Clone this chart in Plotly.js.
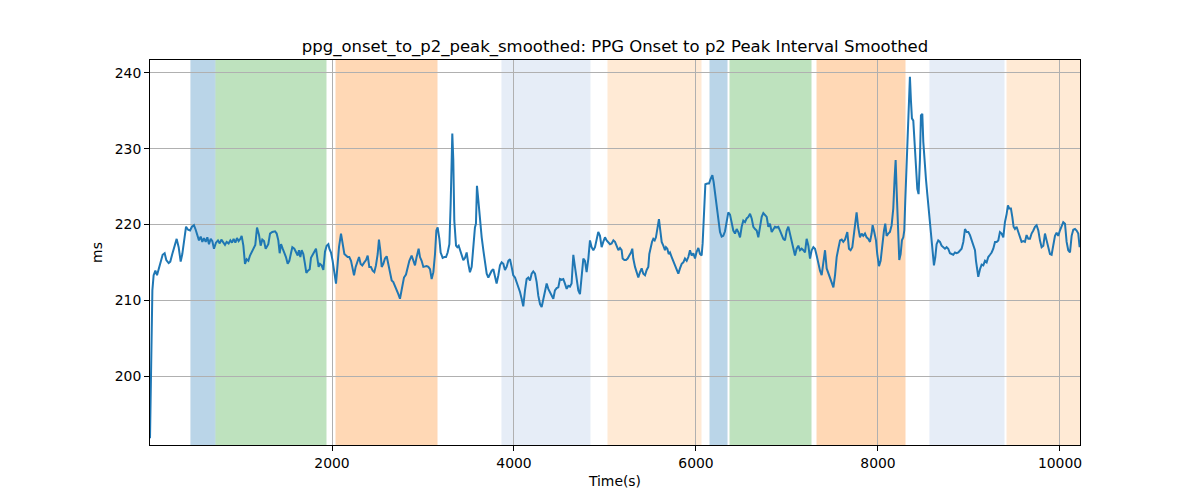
<!DOCTYPE html>
<html>
<head>
<meta charset="utf-8">
<script src="https://cdn.plot.ly/plotly-3.0.1.min.js"></script>
<style>html,body{margin:0;padding:0;background:#fff;}#chart{width:1200px;height:500px;}</style>
</head>
<body>
<div id="chart"></div>
<script>
// Time (s)
const time = [0,15,26,40,59,77,99,117,139,161,179,205,223,245,271,293,315,337,355,381,396,418,440,461,483,502,520,538,557,575,593,612,630,648,667,685,703,725,747,766,784,802,824,842,864,883,901,919,938,956,974,993,1007,1026,1044,1062,1081,1099,1121,1143,1157,1176,1198,1216,1234,1253,1271,
1300,1319,1344,1374,1392,1410,1425,1440,1458,1476,1494,1513,1531,1549,1564,1586,1604,1623,1637,1652,1667,1685,1703,1718,1736,1755,1769,1787,1806,1824,1839,1853,1868,1886,1905,1923,1941,1960,1971,1989,2007,2026,2044,2062,2077,2099,2117,2136,2154,2172,2190,2209,2223,2242,2260,2278,2297,2315,2333,2355,2374,2392,2410,2428,2447,2465,2483,2502,2516,2531,
2546,2564,2582,2601,2619,2637,2656,2674,2692,2711,2729,2747,2773,2791,2813,2832,2850,2875,2894,2912,2930,2952,2967,2985,3004,3022,3040,3059,3077,3095,3114,3132,3147,3161,3180,3194,3216,3235,3253,3271,3290,3304,3315,3322,3333,3344,3363,3377,3392,3407,3425,3443,3462,3480,3498,3516,3535,3553,3571,3582,3593,3608,3626,3645,3663,3681,3700,3718,3736,3755,3773,3791,
3809,3828,3846,3864,3883,3901,3919,3938,3956,3974,3992,4011,4029,4047,4066,4084,4102,4121,4139,4157,4176,4194,4212,4231,4249,4267,4286,4304,4322,4341,4359,4377,4396,4414,4432,4450,4469,4487,4505,4524,4542,4560,4579,4597,4615,4633,4652,4670,4688,4707,4725,4743,4762,4780,4798,4817,4835,4853,4872,4890,4908,4926,4945,4963,4981,5000,5018,5036,
5055,5073,5092,5110,5128,5147,5165,5183,5194,5213,5231,5249,5267,5286,5300,5311,5330,5348,5366,5385,5403,5421,5440,5458,5476,5487,5502,5517,5531,5546,5560,5575,5593,5608,5623,5641,5659,5670,5685,5700,5714,5733,5751,5769,5788,5806,5824,5843,5861,5879,5898,5916,5934,5952,5971,5989,6007,6026,6044,6062,6073,6088,6103,6125,6143,6161,6180,6194,6213,6227,6246,6264,6282,6300,
6319,6337,6355,6374,6392,6410,6429,6447,6465,6484,6502,6520,6539,6557,6575,6594,6612,6630,6649,6667,6685,6703,6722,6740,6758,6777,6795,6813,6832,6850,6868,6887,6905,6923,6942,6960,6978,6997,7015,7033,7051,7070,7088,7106,7125,7143,7161,7180,7198,7216,7235,7253,7271,7290,7308,7326,7345,7363,7381,7400,7418,7436,7455,7473,7491,7510,7528,7546,7564,7583,7601,7619,7638,
7663,7681,7699,7718,7736,7754,7765,7783,7802,7820,7838,7857,7875,7893,7912,7930,7941,7959,7978,7992,8011,8029,8047,8066,8080,8095,8113,8131,8150,8168,8183,8194,8205,8219,8234,8249,8263,8278,8289,8300,8315,8329,8340,8351,8362,8373,8388,8403,8417,8432,8446,8461,8472,8487,8498,8509,8527,8542,8556,8571,8586,8600,8615,8630,8644,8662,8681,8699,8717,8736,8754,8772,8791,8809,8827,8846,
8864,8883,8901,8919,8938,8956,8974,8993,9011,9029,9048,9066,9077,9091,9102,9121,9139,9157,9176,9194,9212,9231,9249,9267,9286,9304,9322,9340,9359,9377,9395,9414,9428,9443,9461,9476,9490,9505,9523,9542,9560,9578,9597,9615,9633,9652,9670,9688,9707,9725,9743,9762,9780,9798,9817,9835,9853,9872,9890,9908,9927,9945,9963,9981,9999,10018,10036,10055,10073,10091,10110,10128,10146,10165,10183,10201,10216];

// Interval (ms)
const interval = [191.8,203.8,211.3,213.3,213.9,213.3,214.3,214.8,216.0,216.2,215.3,214.9,215.1,216.1,217.2,218.1,217.0,215.1,216.1,218.8,219.7,219.3,219.2,219.7,219.9,219.3,218.4,217.9,218.4,217.7,218.2,217.7,218.3,217.4,218.1,217.8,216.8,217.6,217.9,217.5,218.0,217.6,217.3,217.7,217.5,217.9,217.6,218.1,217.6,218.2,217.8,218.1,218.5,217.2,214.8,215.4,215.2,215.9,216.5,217.1,217.3,219.6,218.6,217.2,218.0,217.8,216.8,
217.4,218.8,219.0,219.1,218.8,217.9,216.2,217.4,216.8,216.3,215.7,214.8,215.2,216.2,217.0,216.8,216.3,215.9,216.6,215.7,216.6,216.1,214.8,213.6,213.9,214.1,215.6,216.1,216.4,216.8,215.7,214.4,214.8,214.6,214.0,216.4,217.2,217.4,216.8,216.3,215.2,213.7,212.2,214.8,217.0,218.8,217.7,216.1,215.9,215.7,215.7,215.2,214.4,213.3,214.4,215.2,215.7,214.8,214.6,215.0,215.3,215.9,214.4,214.4,213.9,213.7,214.6,216.1,218.0,216.6,
214.4,214.8,215.5,215.8,214.8,213.7,212.6,212.4,211.9,211.5,210.8,210.2,212.0,213.0,213.4,214.4,215.2,215.9,215.2,214.6,215.7,216.8,215.7,215.2,214.4,214.5,214.5,214.4,214.1,212.8,213.7,216.1,219.2,219.6,218.1,216.3,215.6,215.7,215.7,216.3,217.4,222.7,228.9,232.0,228.5,220.5,217.2,217.0,217.2,216.6,215.7,215.3,215.6,216.3,214.8,213.7,214.4,217.4,219.6,220.1,225.1,223.2,220.5,218.3,216.6,214.8,213.5,213.0,213.5,213.9,214.1,213.0,
212.2,213.3,214.6,215.0,214.8,214.0,214.4,215.2,215.4,214.4,213.3,213.0,212.4,211.7,211.1,210.2,209.2,211.3,212.8,213.0,212.6,213.5,213.8,213.5,212.4,210.6,209.5,209.1,210.0,211.1,212.2,211.5,211.1,210.6,210.2,211.3,211.6,211.7,212.8,212.7,212.8,212.2,211.5,211.9,211.8,212.2,216.0,214.4,212.6,211.3,210.8,213.0,215.5,215.2,213.7,215.5,217.9,217.0,216.6,217.0,218.1,219.0,218.5,217.0,217.7,218.3,217.9,217.7,
217.4,217.5,217.9,217.7,217.2,216.6,216.9,216.6,215.5,215.3,215.3,215.5,215.9,216.3,216.8,215.5,214.4,213.5,213.0,213.7,214.2,213.5,213.3,214.0,214.4,216.1,217.0,217.7,218.1,217.9,218.3,219.4,220.7,219.2,217.7,217.2,216.6,217.0,216.8,216.1,216.3,215.7,215.2,214.7,214.2,213.5,214.2,214.8,215.0,215.5,215.2,215.7,216.6,215.9,216.2,215.5,216.4,216.9,216.1,215.9,217.5,222.7,225.3,225.4,225.4,226.0,226.5,225.6,223.6,222.3,220.5,219.0,218.4,218.5,
219.1,220.4,221.6,221.3,220.1,219.2,218.8,219.4,219.0,218.3,219.7,220.5,220.3,220.8,221.0,221.4,220.8,219.7,219.4,219.2,218.3,219.7,221.0,221.5,221.2,221.0,219.7,220.1,219.0,219.4,219.7,219.6,219.7,219.2,218.5,218.1,217.9,219.2,219.7,218.8,217.7,216.8,215.9,216.8,217.2,216.6,216.8,216.6,216.3,218.1,217.2,215.5,216.6,217.0,216.8,215.9,214.8,213.9,213.3,214.8,216.6,214.2,213.5,213.0,212.4,211.7,213.3,215.7,216.8,217.9,218.0,217.7,218.0,
219.0,216.8,216.6,217.0,218.7,220.5,221.6,219.6,218.3,218.8,218.5,218.8,218.3,218.1,217.7,218.8,219.9,219.0,217.9,216.1,214.5,215.2,217.7,219.2,220.1,218.5,218.8,219.0,219.9,222.1,226.2,228.5,224.5,218.8,215.3,216.1,217.9,218.3,219.2,223.2,228.4,233.7,237.3,239.5,236.4,234.0,233.7,230.7,227.6,224.7,224.0,228.5,234.4,234.6,230.9,228.5,226.0,224.0,222.1,220.1,217.9,216.1,214.6,215.7,217.4,217.9,217.7,217.2,217.0,216.8,217.0,216.8,216.2,216.1,216.0,216.3,
216.2,216.3,216.6,216.8,217.7,219.4,219.0,219.0,218.6,217.9,217.2,216.6,215.2,213.7,213.1,214.1,214.7,214.6,215.2,215.0,215.7,216.0,216.3,216.8,217.7,217.7,217.9,219.0,218.8,218.3,220.3,221.4,222.5,222.1,222.1,221.0,219.7,219.4,219.7,219.0,218.3,217.7,217.8,217.7,218.6,218.1,218.1,218.8,219.2,219.7,219.9,219.2,217.9,217.0,217.2,218.8,217.9,217.0,216.1,216.0,217.5,218.5,218.9,218.5,219.2,219.9,220.3,220.1,217.7,216.6,216.3,218.5,219.3,219.4,219.2,218.8,217.0];

// Shaded segments
const spanStart = [450, 725, 2044, 3868, 5033, 6154, 6374, 7330, 8571, 9418];
const spanEnd   = [714, 1934, 3154, 4835, 6055, 6341, 7264, 8297, 9385, 10220];
const spanKind  = ['blue', 'green', 'orange', 'lightblue', 'lightorange', 'blue', 'green', 'orange', 'lightblue', 'lightorange'];

const xTicks = [2000, 4000, 6000, 8000, 10000];
const yTicks = [200, 210, 220, 230, 240];

const kindColor = {blue: '#1f77b4', green: '#2ca02c', orange: '#ff7f0e', lightblue: '#aec7e8', lightorange: '#ffbb78'};

const shapes = spanStart.map((s, i) => ({
  type: 'rect', xref: 'x', yref: 'paper', x0: s, x1: spanEnd[i], y0: 0, y1: 1,
  fillcolor: kindColor[spanKind[i]], opacity: 0.3, layer: 'below',
  line: {width: 1, color: kindColor[spanKind[i]]}
}));

const trace = {
  x: time, y: interval, type: 'scatter', mode: 'lines',
  line: {color: '#1f77b4', width: 2}, hoverinfo: 'skip'
};

const font = "DejaVu Sans, sans-serif";
const layout = {
  width: 1200, height: 500,
  margin: {l: 150, r: 120, t: 60, b: 55, pad: 0},
  paper_bgcolor: '#ffffff', plot_bgcolor: 'rgba(0,0,0,0)',
  showlegend: false,
  font: {family: font, size: 13.9, color: '#000'},
  title: {text: 'ppg_onset_to_p2_peak_smoothed: PPG Onset to p2 Peak Interval Smoothed',
          font: {family: font, size: 16.5, color: '#000'},
          x: 0.5, xref: 'paper', xanchor: 'center', y: 1 - 46/500, yref: 'container', yanchor: 'middle'},
  xaxis: {
    range: [0, 10220], tickvals: xTicks, ticktext: xTicks.map(String),
    showgrid: true, gridcolor: '#b0b0b0', gridwidth: 1,
    zeroline: false, showline: true, mirror: true, linecolor: '#000', linewidth: 1,
    ticks: 'outside', ticklen: 5, tickcolor: '#000', tickwidth: 1,
    tickfont: {family: font, size: 13.9, color: '#000'},
    title: {text: 'Time(s)', font: {family: font, size: 13.9, color: '#000'}, standoff: 6},
    automargin: false
  },
  yaxis: {
    range: [190.9, 241.7], tickvals: yTicks, ticktext: yTicks.map(String),
    showgrid: true, gridcolor: '#b0b0b0', gridwidth: 1,
    zeroline: false, showline: true, mirror: true, linecolor: '#000', linewidth: 1,
    ticks: 'outside', ticklen: 5, tickcolor: '#000', tickwidth: 1,
    tickfont: {family: font, size: 13.9, color: '#000'},
    title: {text: 'ms', font: {family: font, size: 13.9, color: '#000'}, standoff: 8},
    automargin: false
  },
  shapes: shapes
};

Plotly.newPlot('chart', [trace], layout, {staticPlot: true, displayModeBar: false});
</script>
</body>
</html>
